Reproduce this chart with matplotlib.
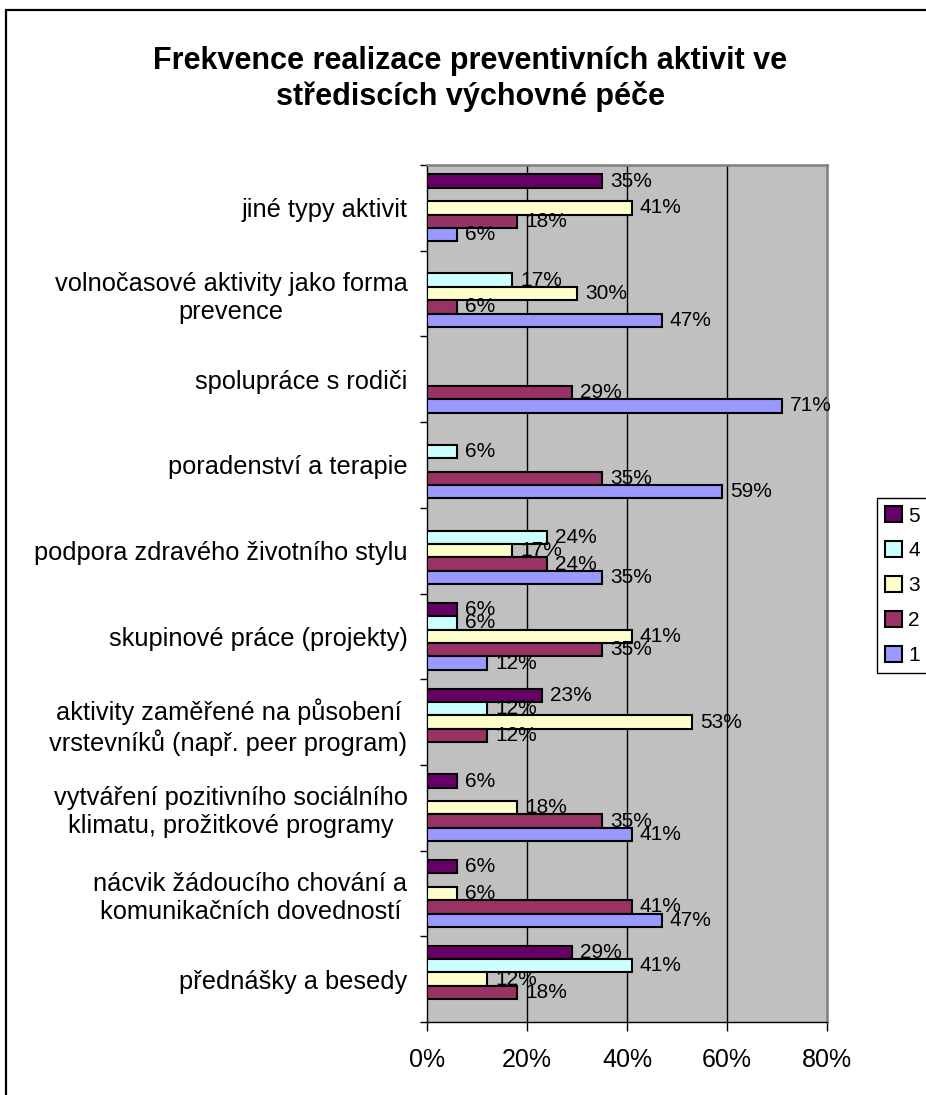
import matplotlib

matplotlib.use("Agg")
import matplotlib.pyplot as plt
from matplotlib.patches import Patch, Rectangle
from matplotlib.ticker import FuncFormatter

plt.rcParams["font.family"] = ["Liberation Sans", "DejaVu Sans"]

# kategorie shora dolů
categories = [
    "jiné typy aktivit",
    "volnočasové aktivity jako forma\nprevence",
    "spolupráce s rodiči",
    "poradenství a terapie",
    "podpora zdravého životního stylu",
    "skupinové práce (projekty)",
    "aktivity zaměřené na působení\nvrstevníků (např. peer program)",
    "vytváření pozitivního sociálního\nklimatu, prožitkové programy",
    "nácvik žádoucího chování a\nkomunikačních dovedností",
    "přednášky a besedy",
]

# podíl odpovědí v % (None = bez hodnoty)
freq5 = [35, None, None, None, None, 6, 23, 6, 6, 29]
freq4 = [None, 17, None, 6, 24, 6, 12, None, None, 41]
freq3 = [41, 30, None, None, 17, 41, 53, 18, 6, 12]
freq2 = [18, 6, 29, 35, 24, 35, 12, 35, 41, 18]
freq1 = [6, 47, 71, 59, 35, 12, None, 41, 47, None]

series_names = ["5", "4", "3", "2", "1"]
series_vals = [freq5, freq4, freq3, freq2, freq1]
colors = ["#660066", "#CCFFFF", "#FFFFCC", "#993366", "#9999FF"]

W, H = 926, 1095
fig = plt.figure(figsize=(W / 100, H / 100), dpi=100)

# oblast grafu v pixelech
left, right, top, bottom = 427, 827, 165, 1022
ax = fig.add_axes([left / W, 1 - bottom / H, (right - left) / W, (bottom - top) / H])
ax.set_facecolor("#C0C0C0")

bh = 0.156
for j, (name, vals, col) in enumerate(zip(series_names, series_vals, colors)):
    for i, v in enumerate(vals):
        if v is None:
            continue
        y = i + (j - 2) * bh
        ax.barh(y, v, height=bh, color=col, edgecolor="black", linewidth=1.5, zorder=3)
        ax.text(v + 1.6, y, f"{v}%", va="center", ha="left", fontsize=15, zorder=4)

ax.set_xlim(0, 80)
ax.set_ylim(len(categories) - 0.5, -0.5)
ax.set_xticks([0, 20, 40, 60, 80])
ax.xaxis.set_major_formatter(FuncFormatter(lambda x, _: f"{x:.0f}%"))
ax.tick_params(axis="x", direction="out", length=6.5, width=1, pad=12, labelsize=18)
for gx in (20, 40, 60):
    ax.axvline(gx, color="black", linewidth=1, zorder=1)

ax.set_yticks(range(len(categories)))
ax.set_yticklabels(categories, fontsize=18.3, multialignment="center")
ax.tick_params(axis="y", which="major", length=0, pad=14)
ax.set_yticks([k - 0.5 for k in range(len(categories) + 1)], minor=True)
ax.tick_params(axis="y", which="minor", direction="out", length=5, width=1)

for side in ("left", "bottom"):
    ax.spines[side].set_color("black")
    ax.spines[side].set_linewidth(1)
for side in ("top", "right"):
    ax.spines[side].set_color("#808080")
    ax.spines[side].set_linewidth(1.8)

fig.text(470 / W, 1 - 46 / H,
         "Frekvence realizace preventivních aktivit ve\nstřediscích výchovné péče",
         ha="center", va="top", fontsize=22, fontweight="bold", linespacing=1.2)

handles = [Patch(facecolor=c, edgecolor="black", linewidth=1.5) for c in colors]
leg = fig.legend(handles, series_names, loc="upper left",
                 bbox_to_anchor=(877 / W, 1 - 498 / H), borderaxespad=0,
                 fontsize=15, handlelength=0.8, handleheight=0.8,
                 handletextpad=0.3, labelspacing=0.75, borderpad=0.4,
                 fancybox=False, framealpha=1, edgecolor="black")
leg.get_frame().set_linewidth(1)

# vnější rámeček grafu
fig.patches.append(Rectangle((6 / W, -0.05), 1.2, 1 - 10 / H + 0.05,
                             transform=fig.transFigure, fill=False,
                             edgecolor="black", linewidth=1.6))

fig.savefig("out.png", dpi=100)
